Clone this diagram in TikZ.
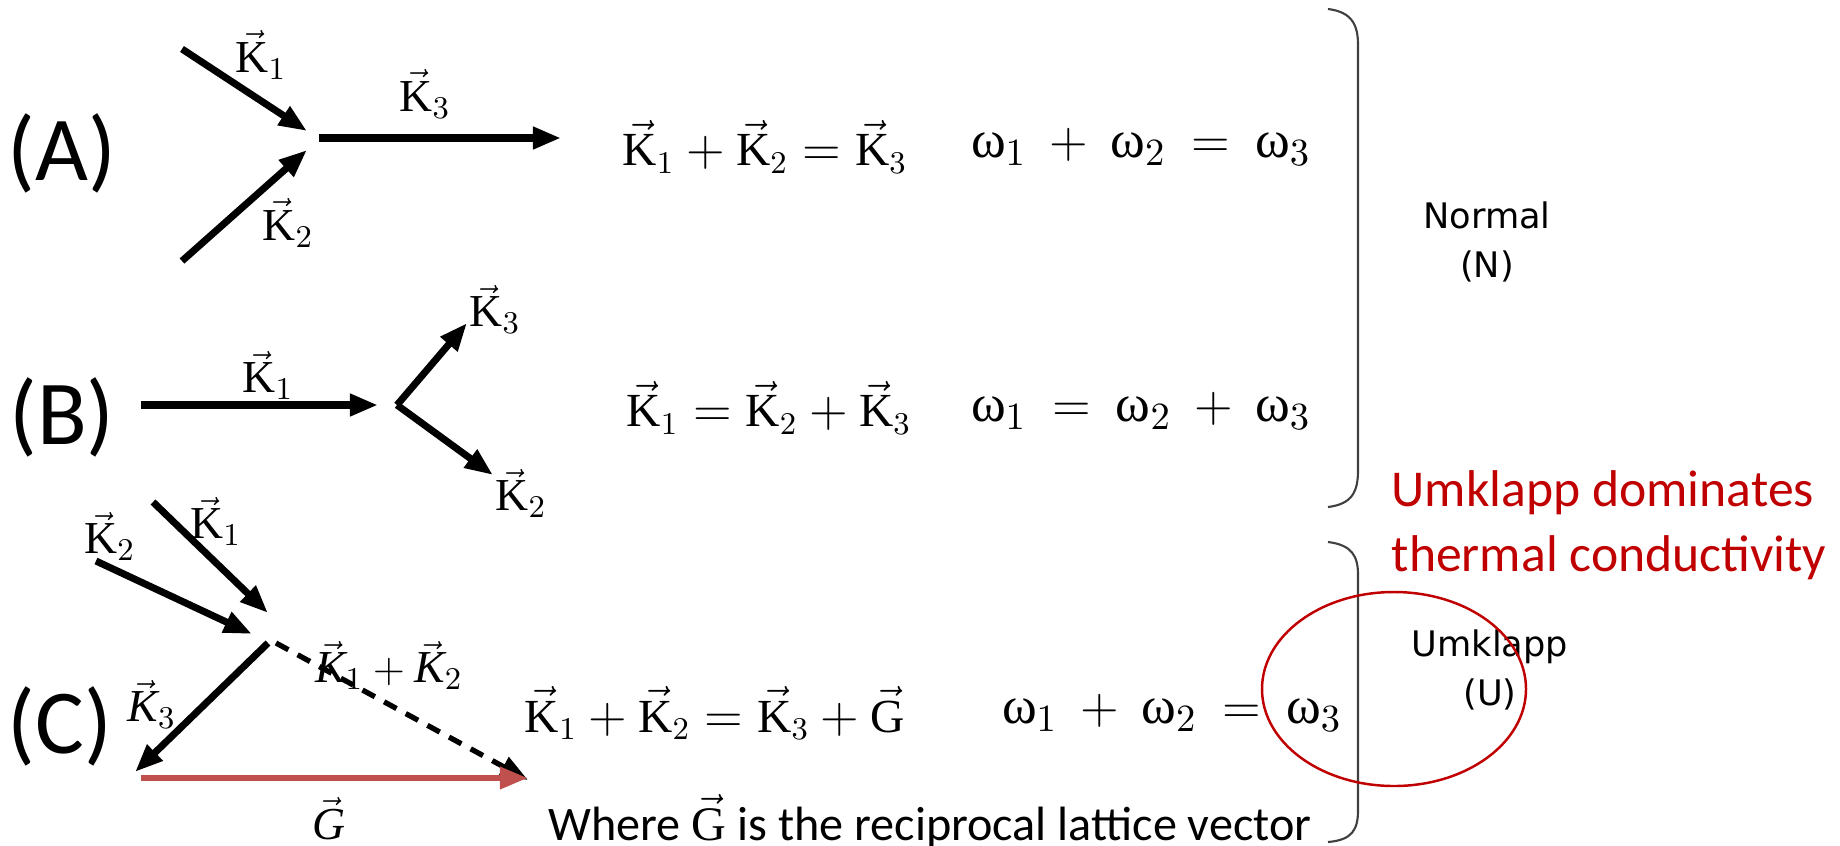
\documentclass[tikz,border=0pt]{standalone}
\usepackage{amsmath}
\usepackage{fontspec}
\setmainfont{Liberation Serif}
\newfontfamily\calfont{Carlito}
\newfontfamily\verfont{DejaVu Sans}
\usetikzlibrary{arrows.meta,calc}
\definecolor{gred}{HTML}{C0504D}
\definecolor{umred}{HTML}{C00000}
\definecolor{bracegray}{HTML}{404040}
\newcommand{\kv}[1]{\vec{\mathrm{K}}_{#1}}
\newcommand{\kvi}[1]{\vec{\mathit{K}}_{#1}}
\newcommand{\om}[1]{\mbox{ω}_{#1}}
\tikzset{
  vecarr/.style={-{Triangle[length=2.8mm,width=2.1mm]}, line width=2pt},
  dasharr/.style={vecarr, line width=1.5pt, dash pattern=on 4pt off 3pt},
  garr/.style={vecarr, draw=gred, line width=1.8pt},
  lab/.style={font=\fontsize{13}{15}\selectfont, inner sep=0pt},
  eq/.style={font=\fontsize{13.5}{16}\selectfont, inner sep=0pt},
  weq/.style={font=\fontsize{15}{18}\selectfont, inner sep=0pt},
  tag/.style={font=\calfont\fontsize{26}{30}\selectfont, inner sep=0pt},
  kind/.style={font=\verfont\fontsize{10}{13.7}\selectfont, align=center, inner sep=0pt},
  note/.style={font=\calfont\fontsize{14.7}{18.5}\selectfont, text=umred, align=left, inner sep=0pt},
  brace/.style={draw=bracegray, line width=0.6pt},
}
\begin{document}
\begin{tikzpicture}[x=0.01cm, y=-0.01cm]
  \useasboundingbox (0,0) rectangle (1840,845);
  % (A)
  \node[tag] (tagA) at (62,153) {(A)};
  \coordinate (a1s) at (182,49);  \coordinate (a1e) at (307,131);
  \coordinate (a2s) at (182,261); \coordinate (a2e) at (307,150);
  \coordinate (a3s) at (319,138); \coordinate (a3e) at (561,138);
  \draw[vecarr] (a1s) -- (a1e);
  \draw[vecarr] (a2s) -- (a2e);
  \draw[vecarr] (a3s) -- (a3e);
  \node[lab] (la1) at (261,55) {$\kv{1}$};
  \node[lab] (la2) at (288,223) {$\kv{2}$};
  \node[lab] (la3) at (425,94) {$\kv{3}$};
  \node[eq] (eqA) at (765,147) {$\kv{1} + \kv{2} = \kv{3}$};
  \node[weq] (wA) at (1141,147) {$\om{1} \:+\: \om{2} \:=\: \om{3}$};
  % (B)
  \node[tag] (tagB) at (62,417) {(B)};
  \coordinate (b1s) at (141,405); \coordinate (b1e) at (378,405);
  \coordinate (bj) at (397,405);
  \coordinate (b3e) at (467,323); \coordinate (b2e) at (493,475);
  \draw[vecarr] (b1s) -- (b1e);
  \draw[vecarr] (bj) -- (b3e);
  \draw[vecarr] (bj) -- (b2e);
  \node[lab] (lb1) at (268,375) {$\kv{1}$};
  \node[lab] (lb3) at (495,309) {$\kv{3}$};
  \node[lab] (lb2) at (521,493) {$\kv{2}$};
  \node[eq] (eqB) at (769,408) {$\kv{1} = \kv{2} + \kv{3}$};
  \node[weq] (wB) at (1141,411) {$\om{1} \:=\: \om{2} \:+\: \om{3}$};
  % (C)
  \node[tag] (tagC) at (60,726) {(C)};
  \coordinate (c1s) at (153,502); \coordinate (c1e) at (268,613);
  \coordinate (c2s) at (96,561);  \coordinate (c2e) at (252,634);
  \coordinate (cj) at (268,643);  \coordinate (c3e) at (135,772);
  \coordinate (ds) at (276,643);  \coordinate (de) at (528,780);
  \coordinate (gs) at (141,778);  \coordinate (ge) at (528,778);
  \draw[vecarr] (c1s) -- (c1e);
  \draw[vecarr] (c2s) -- (c2e);
  \draw[vecarr] (cj) -- (c3e);
  \draw[dasharr] (ds) -- (de);
  \draw[garr] (gs) -- (ge);
  \node[lab] (lc1) at (216,521) {$\kv{1}$};
  \node[lab] (lc2) at (110,536) {$\kv{2}$};
  \node[lab] (lc3) at (152,704) {$\kvi{3}$};
  \node[lab] (lsum) at (389,665) {$\kvi{1} + \kvi{2}$};
  \node[lab] (lg) at (329,819) {$\vec{\mathit{G}}$};
  \node[eq] (eqC) at (715,713) {$\kv{1} + \kv{2} = \kv{3} + \vec{\mathrm{G}}$};
  \node[weq] (wC) at (1172,713) {$\om{1} \:+\: \om{2} \:=\: \om{3}$};
  \node[font=\calfont\fontsize{13.7}{16}\selectfont, inner sep=0pt] (where) at (930,821)
    {Where $\vec{\mathrm{G}}$ is the reciprocal lattice vector};
  % braces and notes
  \draw[brace] (1328,9) .. controls (1352,12) and (1358,25) .. (1358,45)
    -- (1358,470) .. controls (1358,492) and (1352,504) .. (1328,507);
  \draw[brace] (1328,542) .. controls (1352,545) and (1358,556) .. (1358,575)
    -- (1358,810) .. controls (1358,830) and (1352,840) .. (1328,842);
  \node[kind] (norm) at (1487,242) {Normal\\(N)};
  \node[kind] (umk) at (1490,670) {Umklapp\\(U)};
  \node[note, anchor=west] (dom) at (1391,525) {Umklapp dominates\\thermal conductivity};
  \draw[umred, line width=0.7pt] (1394,689) ellipse [x radius=132, y radius=97];
\end{tikzpicture}
\end{document}
